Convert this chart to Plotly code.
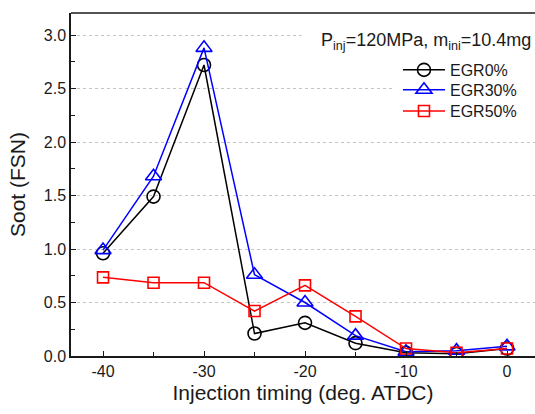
import plotly.graph_objects as go

timing = [-40, -35, -30, -25, -20, -15, -10, -5, 0]
egr0 = [0.96, 1.49, 2.72, 0.21, 0.31, 0.12, 0.03, 0.02, 0.07]
egr30 = [0.99, 1.68, 2.88, 0.76, 0.50, 0.19, 0.04, 0.05, 0.09]
egr50 = [0.735, 0.685, 0.685, 0.42, 0.66, 0.37, 0.07, 0.03, 0.07]
series_names = ["EGR0%", "EGR30%", "EGR50%"]
y_ticks = [0.0, 0.5, 1.0, 1.5, 2.0, 2.5, 3.0]
x_ticks = [-40, -30, -20, -10, 0]

FONT = "Liberation Sans, Arial, sans-serif"
INK = "#1a1a1a"

fig = go.Figure()
styles = [
    ("black", "circle-open", 13, "legend"),
    ("blue", "triangle-up-open", 14, "legend2"),
    ("red", "square-open", 11, "legend3"),
]
for name, vals, (col, sym, sz, lg) in zip(series_names, [egr0, egr30, egr50], styles):
    fig.add_trace(go.Scatter(
        x=timing, y=vals, name=name, mode="lines+markers",
        line=dict(color=col, width=1.5),
        marker=dict(symbol=sym, size=sz, color=col, line=dict(color=col, width=1.6)),
        legend=lg,
    ))

def leg(yc):
    return dict(x=0.7047, y=yc, xanchor="left", yanchor="middle",
                bgcolor="rgba(0,0,0,0)", borderwidth=0,
                font=dict(size=16, family=FONT, color=INK), itemwidth=42)

fig.update_layout(
    width=535, height=414,
    margin=dict(l=71, r=0, t=13, b=58),
    paper_bgcolor="white", plot_bgcolor="white",
    font=dict(family=FONT, size=16, color=INK),
    legend=leg(0.834), legend2=leg(0.776), legend3=leg(0.714),
    showlegend=True,
)
fig.update_xaxes(
    range=[-43.17, 2.77], tickvals=x_ticks, ticktext=[str(v) for v in x_ticks],
    ticks="inside", ticklen=5, tickwidth=1, tickcolor=INK,
    minor=dict(dtick=5, tick0=0, ticks="inside", ticklen=4, tickcolor=INK, showgrid=False),
    showline=True, linecolor=INK, linewidth=1.5, mirror=False,
    showgrid=False, zeroline=False, automargin=False,
    title=dict(text="Injection timing (deg. ATDC)", font=dict(size=21), standoff=6),
    tickfont=dict(size=16),
)
fig.update_yaxes(
    range=[0, 3.206], tickvals=y_ticks, ticktext=[f"{v:.1f}" for v in y_ticks],
    ticks="inside", ticklen=5, tickwidth=1, tickcolor=INK,
    minor=dict(dtick=0.25, tick0=0, ticks="inside", ticklen=4, tickcolor=INK, showgrid=False),
    showline=True, linecolor=INK, linewidth=1.5,
    showgrid=True, gridcolor="#c4c4c4", griddash="dot", gridwidth=1,
    zeroline=False, automargin=False,
    title=dict(text="Soot (FSN)", font=dict(size=21), standoff=12),
    tickfont=dict(size=16),
)
# top border line
fig.add_shape(type="line", xref="paper", yref="paper", x0=0, x1=1, y0=1, y1=1,
              line=dict(color=INK, width=1.5))
# white backgrounds behind the annotation and legend (hide gridlines there)
fig.add_shape(type="rect", xref="paper", yref="paper", x0=0.497, x1=1, y0=0.875, y1=0.96,
              fillcolor="white", line=dict(width=0), layer="above")
fig.add_shape(type="rect", xref="paper", yref="paper", x0=0.694, x1=1, y0=0.69, y1=0.875,
              fillcolor="white", line=dict(width=0), layer="above")
fig.add_annotation(
    xref="paper", yref="paper", x=0.993, y=0.9155, xanchor="right", yanchor="middle",
    text="P<sub>inj</sub>=120MPa, m<sub>ini</sub>=10.4mg", showarrow=False,
    font=dict(size=18, family=FONT, color=INK), borderpad=0,
)
fig.write_html("out.html", config={"displayModeBar": False},
               post_script="document.body.style.margin='0';document.body.style.overflow='hidden';")
